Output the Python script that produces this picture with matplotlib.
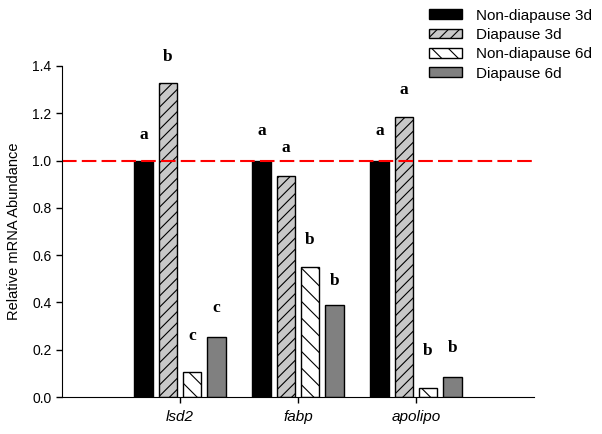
import numpy as np
import matplotlib
matplotlib.use("Agg")
import matplotlib.pyplot as plt

genes = ["lsd2", "fabp", "apolipo"]
series = ["Non-diapause 3d", "Diapause 3d", "Non-diapause 6d", "Diapause 6d"]
nd3 = [1.0, 1.0, 1.0]
d3 = [1.33, 0.935, 1.185]
nd6 = [0.105, 0.55, 0.038]
d6 = [0.255, 0.39, 0.083]
# significance letters and the height they sit at
sig_letters = [["a", "a", "a"], ["b", "a", "a"], ["c", "b", "b"], ["c", "b", "b"]]
sig_y = [[1.11, 1.124, 1.127], [1.437, 1.054, 1.30],
         [0.257, 0.666, 0.193], [0.377, 0.489, 0.207]]

plt.rcParams['font.family'] = ['Liberation Sans', 'DejaVu Sans']
plt.rcParams['hatch.linewidth'] = 0.8

fig = plt.figure(figsize=(6.02, 4.34), dpi=100)
ax = fig.add_axes([0.103, 0.085, 0.784, 0.763])

x = np.arange(len(genes))
step = 0.205
width = 0.157
facecols = ["black", "#c8c8c8", "white", "#808080"]
hatches = [None, "///", "\\\\", None]
vals = [nd3, d3, nd6, d6]

for i in range(4):
    pos = x + (i - 1.5) * step
    ax.bar(pos, vals[i], width=width, color=facecols[i], edgecolor="black",
           linewidth=1.0, hatch=hatches[i], label=series[i])
    for j in range(len(genes)):
        ax.text(pos[j], sig_y[i][j], sig_letters[i][j], ha="center", va="center",
                fontsize=12.5, fontweight="bold", family="Liberation Serif")

ax.axhline(1.0, color="red", linewidth=1.5, dashes=(7, 2.5))

ax.set_xlim(-1, 3)
ax.set_ylim(0, 1.4)
ax.set_yticks(np.arange(0, 1.41, 0.2))
ax.set_yticklabels(["%.1f" % v for v in np.arange(0, 1.41, 0.2)], fontsize=10)
ax.set_xticks(x)
ax.set_xticklabels(genes, fontsize=11, style="italic")
ax.tick_params(axis="both", direction="out", length=4, width=1, colors="black")
ax.tick_params(axis="x", pad=5)
ax.set_ylabel("Relative mRNA Abundance", fontsize=10.5, labelpad=8)
ax.spines["top"].set_visible(False)
ax.spines["right"].set_visible(False)

fig.legend(loc="upper left", bbox_to_anchor=(0.712, 0.98), frameon=False,
           fontsize=11, handlelength=2.2, handleheight=0.6, labelspacing=0.35,
           handletextpad=0.9, borderpad=0, borderaxespad=0)

fig.savefig("out.png", dpi=100)
